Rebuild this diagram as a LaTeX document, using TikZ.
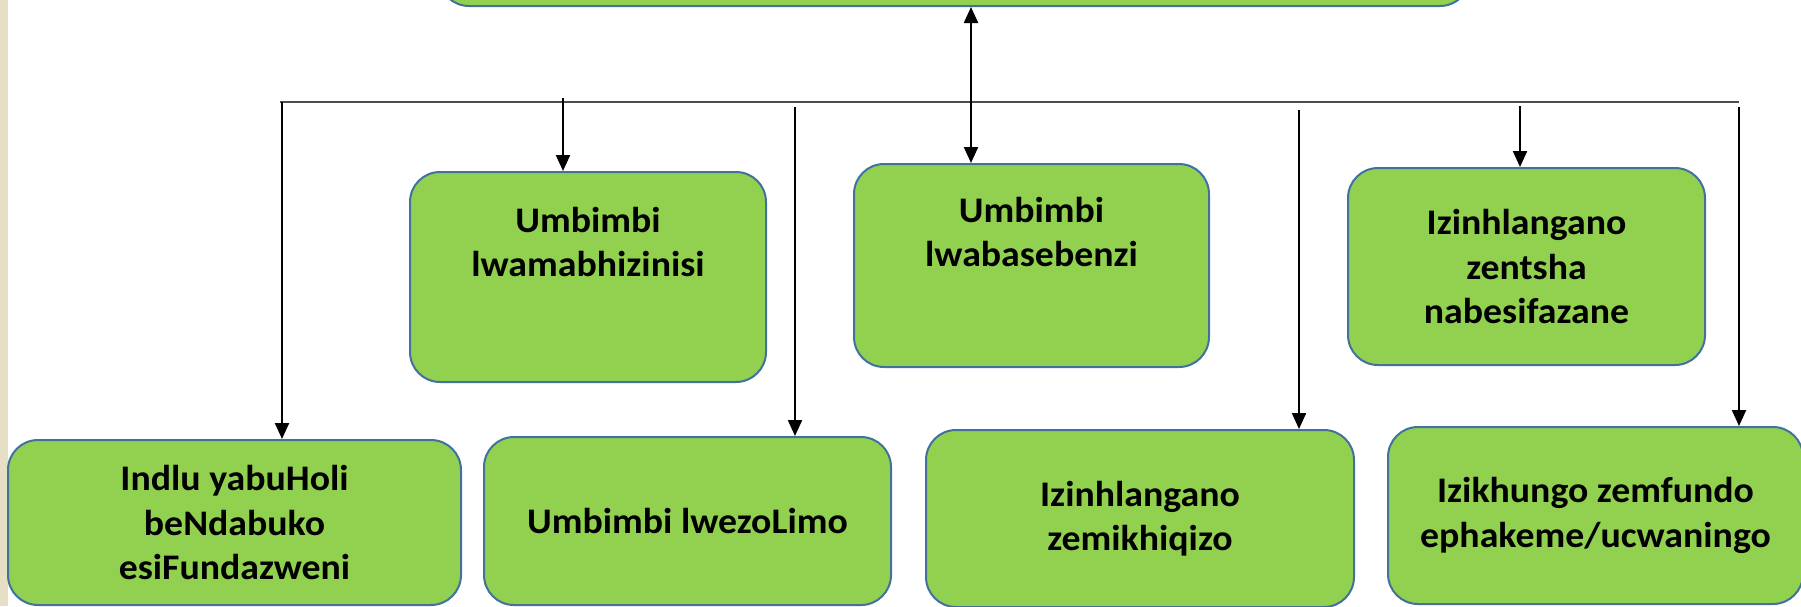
\documentclass[tikz,border=0pt]{standalone}
\usepackage{fontspec}
\setmainfont{Carlito}[FakeStretch=1.05]
\usetikzlibrary{arrows.meta, positioning}
\definecolor{boxgreen}{HTML}{92D050}
\definecolor{boxblue}{HTML}{41719C}
\definecolor{stripbeige}{HTML}{E5DFC6}

\begin{document}
\begin{tikzpicture}[
        x=1pt, y=-1pt,
        every node/.style={font=\fontsize{36}{44.5}\selectfont\bfseries},
        box/.style={rectangle,draw=boxblue,line width=2pt,fill=boxgreen,rounded corners=30pt,inner sep=0pt,align=center},
        txt/.style={align=center,inner sep=0pt},
        link/.style={line width=2.2pt,-{Triangle[length=16pt,width=14pt]}},
        bus/.style={line width=2pt,draw=black!70}
      ]
      \useasboundingbox (0,0) rectangle (1801,606);
      \clip (0,0) rectangle (1801,606);

      % beige strip on the left
      \fill[stripbeige] (0,0) rectangle (8,606);

      % top box (runs off the page)
      \node[box,minimum width=1031pt,minimum height=60pt] (top) at (954.5,-24) {};

      % middle row
      \node[box,minimum width=356pt,minimum height=210pt] (biz) at (588,277) {};
      \node[txt] (biztxt) at (588,242) {Umbimbi\\lwamabhizinisi};
      \node[box,minimum width=355pt,minimum height=203pt] (work) at (1031.5,265.5) {};
      \node[txt] (worktxt) at (1031.5,232) {Umbimbi\\lwabasebenzi};
      \node[box,minimum width=357pt,minimum height=197pt] (youth) at (1526.5,266.5) {Izinhlangano\\zentsha\\nabesifazane};

      % bottom row
      \node[box,minimum width=453pt,minimum height=165pt] (house) at (234.5,522.5) {Indlu yabuHoli\\beNdabuko\\esiFundazweni};
      \node[box,minimum width=407pt,minimum height=168pt] (farm) at (687.5,521) {Umbimbi lwezoLimo};
      \node[box,minimum width=428pt,minimum height=177pt] (prod) at (1140,518.5) {Izinhlangano\\zemikhiqizo};
      \node[box,minimum width=415pt,minimum height=177pt] (high) at (1595.5,515.5) {Izikhungo zemfundo\\ephakeme/ucwaningo};

      % bus line
      \coordinate (busL) at (280,102);
      \coordinate (busR) at (1739,102);
      \draw[bus] (busL) -- (busR);

      % drops from the bus
      \coordinate (d1) at (282,102);
      \coordinate (d2) at (563,98);
      \coordinate (d3) at (795,107);
      \coordinate (d4) at (1299,110);
      \coordinate (d5) at (1520,106);
      \coordinate (d6) at (1739,107);
      \draw[link] (d1) -- (d1 |- house.north);
      \draw[link] (d2) -- (d2 |- biz.north);
      \draw[link] (d3) -- (d3 |- farm.north);
      \draw[link] (d4) -- (d4 |- prod.north);
      \draw[link] (d5) -- (d5 |- youth.north);
      \draw[link] (d6) -- (d6 |- high.north);

      % two-way link to the top box
      \coordinate (up) at (971,102);
      \draw[link,{Triangle[length=16pt,width=14pt]}-{Triangle[length=16pt,width=14pt]}] (up |- top.south) -- (up |- work.north);
    \end{tikzpicture}
\end{document}
